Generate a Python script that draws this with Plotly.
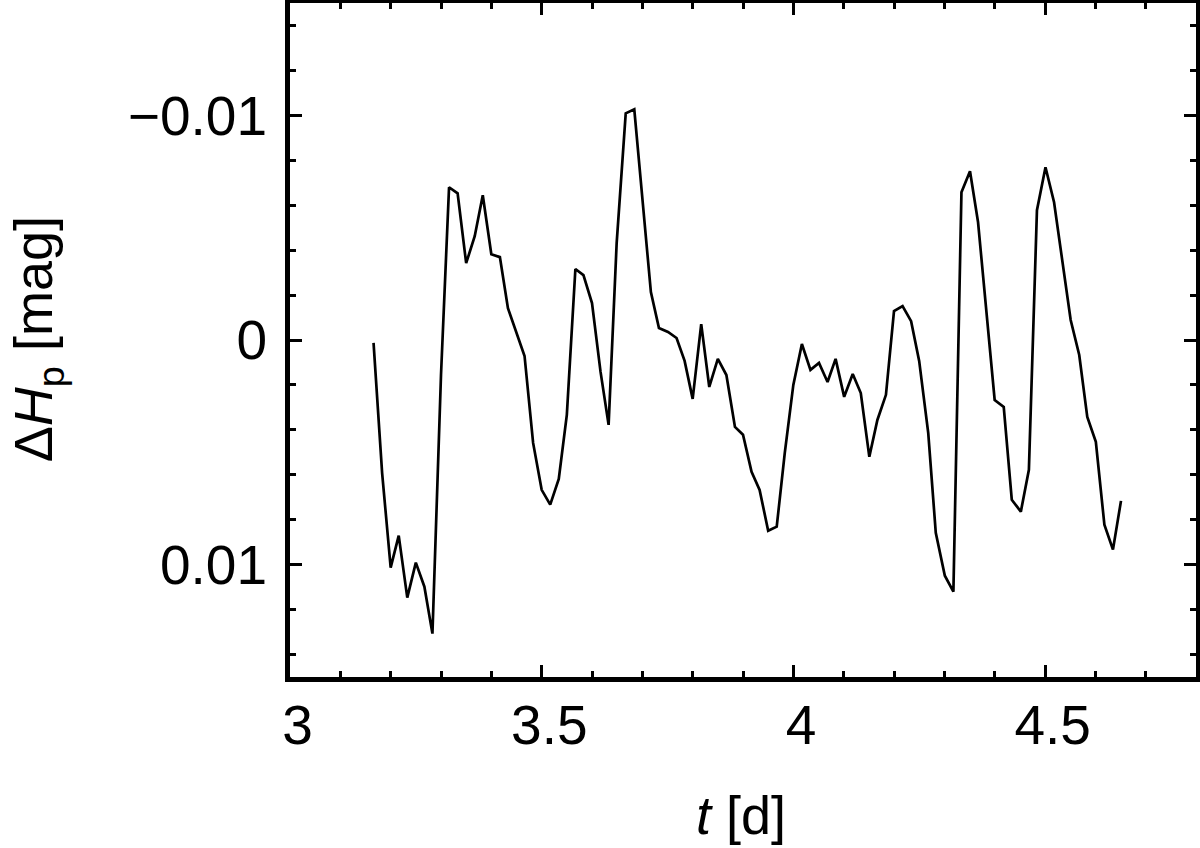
import plotly.graph_objects as go

t_days = [3.166, 3.183, 3.200, 3.216, 3.233, 3.250, 3.267, 3.283, 3.300, 3.316,
          3.333, 3.350, 3.367, 3.383, 3.400, 3.417, 3.433, 3.450, 3.466, 3.483,
          3.500, 3.517, 3.534, 3.550, 3.567, 3.583, 3.600, 3.617, 3.633, 3.649,
          3.667, 3.684, 3.700, 3.717, 3.733, 3.751, 3.768, 3.784, 3.800, 3.817,
          3.833, 3.850, 3.867, 3.884, 3.900, 3.917, 3.933, 3.950, 3.967, 3.983,
          4.000, 4.017, 4.034, 4.051, 4.068, 4.084, 4.101, 4.118, 4.134, 4.151,
          4.167, 4.184, 4.200, 4.217, 4.234, 4.250, 4.268, 4.283, 4.301, 4.318,
          4.334, 4.351, 4.367, 4.384, 4.400, 4.418, 4.434, 4.452, 4.468, 4.484,
          4.501, 4.518, 4.534, 4.551, 4.568, 4.584, 4.601, 4.618, 4.635, 4.651]

delta_hp = [0.00013, 0.00591, 0.01013, 0.00871, 0.01147, 0.00991, 0.01098, 0.01307, 0.00156, -0.00680,
            -0.00653, -0.00342, -0.00462, -0.00644, -0.00382, -0.00369, -0.00142, -0.00036, 0.00071, 0.00458,
            0.00667, 0.00733, 0.00618, 0.00333, -0.00316, -0.00289, -0.00164, 0.00142, 0.00378, -0.00431,
            -0.01009, -0.01027, -0.00622, -0.00213, -0.00053, -0.00036, -0.00009, 0.00093, 0.00262, -0.00071,
            0.00209, 0.00084, 0.00156, 0.00387, 0.00422, 0.00587, 0.00667, 0.00849, 0.00831, 0.00502,
            0.00200, 0.00018, 0.00133, 0.00102, 0.00187, 0.00084, 0.00253, 0.00151, 0.00236, 0.00520,
            0.00356, 0.00244, -0.00129, -0.00151, -0.00084, 0.00093, 0.00413, 0.00858, 0.01049, 0.01120,
            -0.00658, -0.00751, -0.00524, -0.00120, 0.00267, 0.00298, 0.00711, 0.00764, 0.00578, -0.00578,
            -0.00769, -0.00613, -0.00356, -0.00089, 0.00067, 0.00342, 0.00453, 0.00822, 0.00933, 0.00716]

x_range = [3, 4.8]
y_range = [0.015, -0.015]
x_tickvals = [3, 3.5, 4, 4.5]
x_ticktext = ["\u00a03", "\u00a03.5", "\u00a04", "\u00a04.5"]
y_tickvals = [-0.01, 0, 0.01]
y_ticktext = ["\u22120.01", "0", "0.01"]
x_title = "<i>t</i> [d]"
y_title = "\u0394<i>H</i><sub>p</sub> [mag]"

FONT = "Liberation Sans, Arial, Helvetica, sans-serif"
TICKFONT = dict(family=FONT, size=55, color="black")
TITLEFONT = dict(family=FONT, size=54, color="black")

fig = go.Figure()
fig.add_trace(go.Scatter(x=t_days, y=delta_hp, mode="lines",
                         line=dict(color="black", width=2.7), showlegend=False,
                         hoverinfo="skip"))
# invisible trace to activate the mirror axes (top / right ticks)
fig.add_trace(go.Scatter(x=[t_days[0]], y=[delta_hp[0]], xaxis="x2", yaxis="y2",
                         mode="markers", marker=dict(opacity=0), showlegend=False,
                         hoverinfo="skip"))

tick_common = dict(ticks="inside", ticklen=12, tickwidth=3, tickcolor="black",
                   showgrid=False, zeroline=False, automargin=False)

fig.update_layout(
    width=1200, height=848,
    margin=dict(l=290, r=4, t=3, b=171),
    paper_bgcolor="white", plot_bgcolor="white",
    xaxis=dict(range=x_range, tickvals=x_tickvals, ticktext=x_ticktext,
               showline=True, linecolor="black", linewidth=5, mirror=True,
               tickfont=TICKFONT, ticklabelstandoff=-4,
               minor=dict(dtick=0.1, tick0=3, ticks="inside", ticklen=6, tickwidth=3,
                          tickcolor="black", showgrid=False),
               **tick_common),
    yaxis=dict(range=y_range, tickvals=y_tickvals, ticktext=y_ticktext,
               showline=True, linecolor="black", linewidth=5, mirror=True,
               tickfont=TICKFONT, ticklabelstandoff=7,
               minor=dict(dtick=0.002, tick0=0, ticks="inside", ticklen=6, tickwidth=3,
                          tickcolor="black", showgrid=False),
               **tick_common),
    xaxis2=dict(range=x_range, overlaying="x", side="top", tickvals=x_tickvals,
                showticklabels=False, showline=False,
                minor=dict(dtick=0.1, tick0=3, ticks="inside", ticklen=6, tickwidth=3,
                           tickcolor="black", showgrid=False),
                **tick_common),
    yaxis2=dict(range=y_range, overlaying="y", side="right", tickvals=y_tickvals,
                showticklabels=False, showline=False,
                minor=dict(dtick=0.002, tick0=0, ticks="inside", ticklen=6, tickwidth=3,
                           tickcolor="black", showgrid=False),
                **tick_common),
    annotations=[
        dict(text=x_title, xref="paper", yref="paper", x=0.4978, y=-0.2047,
             xanchor="center", yanchor="middle", showarrow=False, font=TITLEFONT),
        dict(text=y_title, xref="paper", yref="paper", x=-0.279, y=0.5015,
             xanchor="center", yanchor="middle", showarrow=False, textangle=-90,
             font=TITLEFONT),
    ],
)

fig.write_html("out.html", config={"displayModeBar": False},
               post_script="document.body.style.margin='0';")
